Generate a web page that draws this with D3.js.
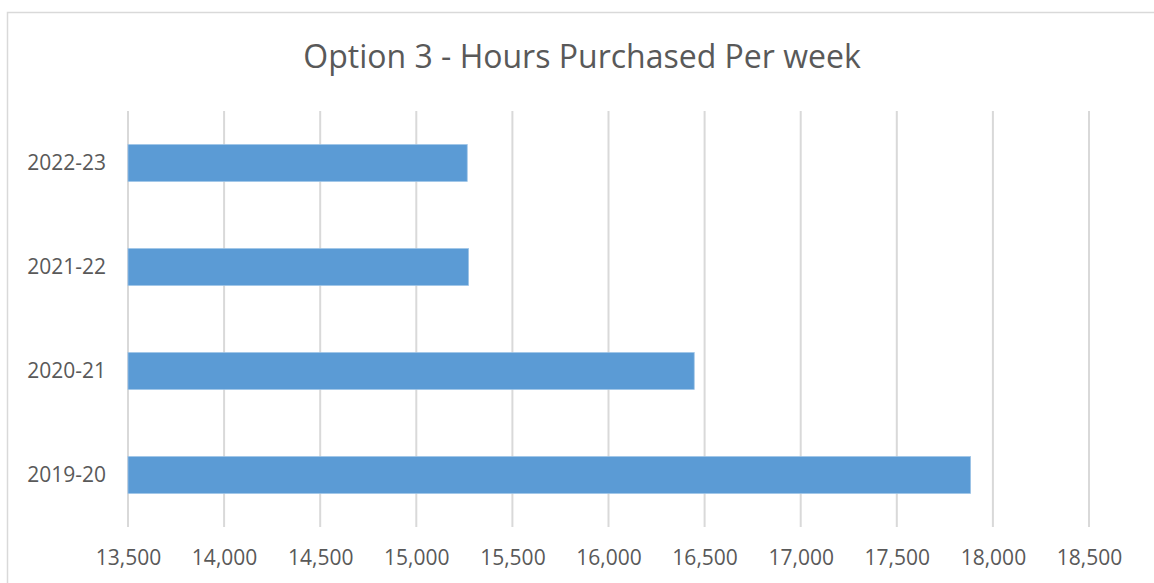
<!DOCTYPE html>
<html>
<head>
<meta charset="utf-8">
<script src="https://cdn.jsdelivr.net/npm/d3@7"></script>
<style>
    body { margin: 0; background: #fff; }
    svg { display: block; }
</style>
</head>
<body>
<div id="chart"></div>
<script>
// Data
const years = ["2022-23", "2021-22", "2020-21", "2019-20"];
const hours = [15265, 15272, 16446, 17884];
const xTicks = [13500, 14000, 14500, 15000, 15500, 16000, 16500, 17000, 17500, 18000, 18500];

const width = 1154;
const height = 583;
const margin = { top: 111, right: 65, bottom: 56, left: 128 };

const svg = d3.select("#chart")
    .append("svg")
    .attr("width", width)
    .attr("height", height);

// Chart area border (left and top edges visible)
svg.append("rect")
    .attr("x", 7.5)
    .attr("y", 12.5)
    .attr("width", width + 20)
    .attr("height", height + 20)
    .attr("fill", "none")
    .attr("stroke", "#d9d9d9")
    .attr("stroke-width", 1.5);

const x = d3.scaleLinear()
    .domain([13500, 18500])
    .range([margin.left, width - margin.right]);

const y = d3.scaleBand()
    .domain(years)
    .range([margin.top, height - margin.bottom])
    .paddingInner(0.645)
    .paddingOuter(0.3225);

// Title
svg.append("text")
    .attr("x", 582)
    .attr("y", 68)
    .attr("text-anchor", "middle")
    .attr("font-family", "'Open Sans', sans-serif")
    .attr("font-size", 32)
    .attr("fill", "#595959")
    .text("Option 3 - Hours Purchased Per week");

// Vertical gridlines
svg.append("g")
    .selectAll("line")
    .data(xTicks)
    .join("line")
    .attr("x1", d => x(d))
    .attr("x2", d => x(d))
    .attr("y1", margin.top)
    .attr("y2", height - margin.bottom)
    .attr("stroke", "#d9d9d9")
    .attr("stroke-width", 2);

// Bars
svg.append("g")
    .selectAll("rect")
    .data(years.map((yr, i) => ({ yr, v: hours[i] })))
    .join("rect")
    .attr("x", x(13500))
    .attr("y", d => y(d.yr))
    .attr("width", d => x(d.v) - x(13500))
    .attr("height", y.bandwidth())
    .attr("fill", "#5b9bd5")
    .attr("stroke", "#9dc3e6")
    .attr("stroke-width", 0.75);

// X axis labels
const xAxis = svg.append("g")
    .attr("transform", `translate(0,${height - margin.bottom})`)
    .call(d3.axisBottom(x).tickValues(xTicks).tickFormat(d3.format(",")).tickSize(0).tickPadding(23));
xAxis.select(".domain").remove();
xAxis.selectAll("text")
    .attr("font-family", "'Open Sans', sans-serif")
    .attr("font-size", 21)
    .attr("fill", "#595959");

// Y axis labels
const yAxis = svg.append("g")
    .attr("transform", `translate(${margin.left},0)`)
    .call(d3.axisLeft(y).tickSize(0).tickPadding(22));
yAxis.select(".domain").remove();
yAxis.selectAll("text")
    .attr("font-family", "'Open Sans', sans-serif")
    .attr("font-size", 21)
    .attr("fill", "#595959");
</script>
</body>
</html>
